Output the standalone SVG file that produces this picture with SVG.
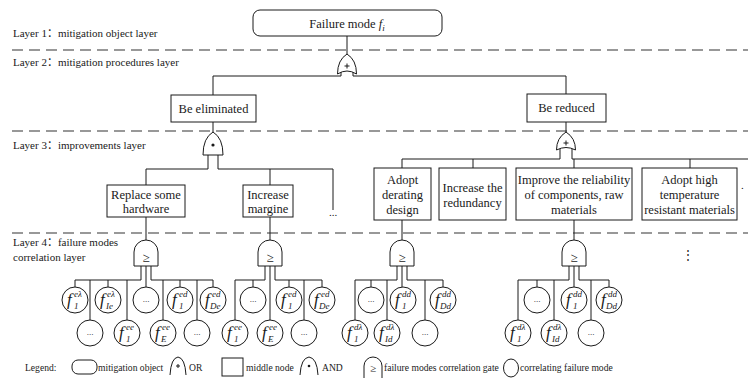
<svg xmlns="http://www.w3.org/2000/svg" width="748" height="378" viewBox="0 0 748 378" font-family="'Liberation Serif', 'DejaVu Serif', serif">
  <style>
    .ln { stroke: #1a1a1a; stroke-width: 1; fill: none; }
    .dash { stroke: #333; stroke-width: 1.2; stroke-dasharray: 11 6; fill: none; }
    .box { fill: #fff; stroke: #1a1a1a; stroke-width: 1; }
    .gate { fill: #fff; stroke: #1a1a1a; stroke-width: 1; }
    text { font-family: 'Liberation Serif', 'DejaVu Serif', 'Noto Sans CJK SC', serif; fill: #1a1a1a; }
    .bt { font-size: 12.5px; text-anchor: middle; }
    .lt { font-size: 11px; }
    .lg { font-size: 9.6px; }
    .fl { font-size: 17px; font-style: italic; }
    .sp { font-size: 9px; font-style: italic; }
    .sb { font-size: 9px; font-style: italic; }
    .dots { font-size: 9px; text-anchor: middle; }
    .ge { font-size: 13px; text-anchor: middle; }
  </style>
  <defs>
    <circle id="fm" r="13" class="box"/>
    <!-- correlation gate: flat sides, domed top, origin at gate centre top -->
    <path id="cg" class="gate" d="M-12,26 L-12,12 A12,12 0 0 1 12,12 L12,26 Z"/>
  </defs>

  <rect width="748" height="378" fill="#fff"/>

  <!-- layer separators -->
  <g id="separators">
    <line class="dash" x1="12" y1="50" x2="748" y2="50"/>
    <line class="dash" x1="12" y1="131" x2="748" y2="131"/>
    <line class="dash" x1="12" y1="233" x2="748" y2="233"/>
  </g>

  <!-- layer captions -->
  <g id="layer-labels" class="lt">
    <text x="13" y="37">Layer 1：mitigation object layer</text>
    <text x="13" y="66">Layer 2：mitigation procedures layer</text>
    <text x="13" y="149">Layer 3：improvements layer</text>
    <text x="13" y="246">Layer 4：failure modes</text>
    <text x="13" y="261">correlation layer</text>
  </g>

  <!-- connectors -->
  <g id="connectors" class="ln">
    <!-- top -->
    <path d="M347,36 V54"/>
    <path d="M341,72 V76 H213 V95"/>
    <path d="M353,72 V76 H566 V94"/>
    <!-- eliminated branch -->
    <path d="M213,122 V132"/>
    <path d="M208,155 V169 H146 V185"/>
    <path d="M218,155 V169 H333 V210"/>
    <path d="M270,169 V185"/>
    <!-- reduced branch -->
    <path d="M566,122 V132"/>
    <path d="M560,148 V159 H402 V168"/>
    <path d="M572,148 V159 H748"/>
    <path d="M473,159 V168"/>
    <path d="M574,159 V168"/>
    <path d="M690,159 V168"/>
    <!-- boxes to correlation gates -->
    <path d="M146,217 V240"/>
    <path d="M270,217 V240"/>
    <path d="M402,220 V240"/>
    <path d="M574,220 V240"/>
    <!-- group 1 -->
    <path d="M141,266 V280 H75 V287"/>
    <path d="M108,280 V287 M90,280 V320 M127,280 V320"/>
    <path d="M146,266 V287"/>
    <path d="M151,266 V280 H213 V287"/>
    <path d="M180,280 V287 M163,280 V320 M197,280 V320"/>
    <!-- group 2 -->
    <path d="M265,266 V280 H235 V320"/>
    <path d="M253,280 V287"/>
    <path d="M270,266 V320"/>
    <path d="M275,266 V280 H322 V287"/>
    <path d="M289,280 V287 M304,280 V320"/>
    <!-- group 3 -->
    <path d="M397,266 V280 H355 V320"/>
    <path d="M371,280 V287 M387,280 V320"/>
    <path d="M402,266 V287"/>
    <path d="M407,266 V280 H443 V287"/>
    <path d="M425,280 V320"/>
    <!-- group 4 -->
    <path d="M569,266 V280 H518 V320"/>
    <path d="M537,280 V287 M554,280 V320"/>
    <path d="M574,266 V287"/>
    <path d="M579,266 V280 H609 V287"/>
    <path d="M591,280 V320"/>
  </g>

  <!-- layer 1 -->
  <g id="failure-mode">
    <rect class="box" x="253" y="10" width="189" height="26" rx="7"/>
    <text x="347" y="28" font-size="12.5" text-anchor="middle">Failure mode <tspan font-style="italic">f</tspan><tspan font-style="italic" font-size="9" dy="3">i</tspan></text>
  </g>

  <!-- layer 2 -->
  <g id="gate-or-top">
    <path class="gate" d="M347,54 Q356.5,60 356.5,74 Q347,68 337.5,74 Q337.5,60 347,54 Z"/>
    <path class="ln" d="M344.5,66 H349.5 M347,63.5 V68.5"/>
  </g>
  <g id="be-eliminated">
    <rect class="box" x="171" y="95" width="85" height="27"/>
    <text class="bt" x="213.5" y="113">Be eliminated</text>
  </g>
  <g id="be-reduced">
    <rect class="box" x="527" y="94" width="79" height="28"/>
    <text class="bt" x="566.5" y="112">Be reduced</text>
  </g>

  <!-- layer 3 -->
  <g id="gate-and-eliminated">
    <path class="gate" d="M213,132 Q223,138 223,155 L203,155 Q203,138 213,132 Z"/>
    <circle cx="213" cy="145" r="1.6" fill="#1a1a1a"/>
  </g>
  <g id="gate-or-reduced">
    <path class="gate" d="M566,132 Q575.5,138 575.5,150 Q566,145 556.5,150 Q556.5,138 566,132 Z"/>
    <path class="ln" d="M563.5,143 H568.5 M566,140.5 V145.5"/>
  </g>
  <g id="replace-hardware">
    <rect class="box" x="107" y="185" width="78" height="32"/>
    <text class="bt" x="146" y="199">Replace some</text>
    <text class="bt" x="146" y="213">hardware</text>
  </g>
  <g id="increase-margine">
    <rect class="box" x="243" y="185" width="50" height="32"/>
    <text class="bt" x="268" y="199">Increase</text>
    <text class="bt" x="268" y="213">margine</text>
  </g>
  <text x="333" y="216" font-size="11" text-anchor="middle">...</text>
  <g id="adopt-derating">
    <rect class="box" x="374" y="168" width="57" height="52"/>
    <text class="bt" x="402.5" y="184">Adopt</text>
    <text class="bt" x="402.5" y="199">derating</text>
    <text class="bt" x="402.5" y="214">design</text>
  </g>
  <g id="increase-redundancy">
    <rect class="box" x="439" y="168" width="67" height="52"/>
    <text class="bt" x="472.5" y="192">Increase the</text>
    <text class="bt" x="472.5" y="207">redundancy</text>
  </g>
  <g id="improve-reliability">
    <rect class="box" x="516" y="168" width="116" height="52"/>
    <text class="bt" x="574" y="184">Improve the reliability</text>
    <text class="bt" x="574" y="199">of components, raw</text>
    <text class="bt" x="574" y="214">materials</text>
  </g>
  <g id="adopt-high-temp">
    <rect class="box" x="642" y="168" width="95" height="52"/>
    <text class="bt" x="689.5" y="184">Adopt high</text>
    <text class="bt" x="689.5" y="199">temperature</text>
    <text class="bt" x="689.5" y="214">resistant materials</text>
  </g>
  <text x="741" y="189" font-size="11">.</text>

  <!-- layer 4: correlation gates -->
  <g id="gate-cor-1"><use href="#cg" x="146" y="240"/><text class="ge" x="146" y="262">≥</text></g>
  <g id="gate-cor-2"><use href="#cg" x="270" y="240"/><text class="ge" x="270" y="262">≥</text></g>
  <g id="gate-cor-3"><use href="#cg" x="402" y="240"/><text class="ge" x="402" y="262">≥</text></g>
  <g id="gate-cor-4"><use href="#cg" x="574" y="240"/><text class="ge" x="574" y="262">≥</text></g>
  <text x="688" y="259" font-size="12" text-anchor="middle">⋮</text>

  <!-- layer 4: correlating failure modes, group 1 -->
  <g id="fm-1-1"><use href="#fm" x="75" y="300"/><text class="fl" x="67" y="305">f<tspan class="sp" x="74" y="297">eλ</tspan><tspan class="sb" x="74" y="309" font-style="normal">1</tspan></text></g>
  <g id="fm-1-2"><use href="#fm" x="108" y="300"/><text class="fl" x="100" y="305">f<tspan class="sp" x="107" y="297">eλ</tspan><tspan class="sb" x="106" y="309">Ie</tspan></text></g>
  <g id="fm-1-3"><use href="#fm" x="146" y="300"/><text class="dots" x="146" y="302">...</text></g>
  <g id="fm-1-4"><use href="#fm" x="180" y="300"/><text class="fl" x="172" y="305">f<tspan class="sp" x="179" y="297">ed</tspan><tspan class="sb" x="179" y="309" font-style="normal">1</tspan></text></g>
  <g id="fm-1-5"><use href="#fm" x="213" y="300"/><text class="fl" x="205" y="305">f<tspan class="sp" x="212" y="297">ed</tspan><tspan class="sb" x="210" y="309">De</tspan></text></g>
  <g id="fm-1-6"><use href="#fm" x="90" y="333"/><text class="dots" x="90" y="335">...</text></g>
  <g id="fm-1-7"><use href="#fm" x="127" y="333"/><text class="fl" x="119" y="338">f<tspan class="sp" x="126" y="330">ee</tspan><tspan class="sb" x="126" y="342" font-style="normal">1</tspan></text></g>
  <g id="fm-1-8"><use href="#fm" x="163" y="333"/><text class="fl" x="155" y="338">f<tspan class="sp" x="162" y="330">ee</tspan><tspan class="sb" x="161" y="342">E</tspan></text></g>
  <g id="fm-1-9"><use href="#fm" x="197" y="333"/><text class="dots" x="197" y="335">...</text></g>

  <!-- group 2 -->
  <g id="fm-2-1"><use href="#fm" x="253" y="300"/><text class="dots" x="253" y="302">...</text></g>
  <g id="fm-2-2"><use href="#fm" x="289" y="300"/><text class="fl" x="281" y="305">f<tspan class="sp" x="288" y="297">ed</tspan><tspan class="sb" x="288" y="309" font-style="normal">1</tspan></text></g>
  <g id="fm-2-3"><use href="#fm" x="322" y="300"/><text class="fl" x="314" y="305">f<tspan class="sp" x="321" y="297">ed</tspan><tspan class="sb" x="319" y="309">De</tspan></text></g>
  <g id="fm-2-4"><use href="#fm" x="235" y="333"/><text class="fl" x="227" y="338">f<tspan class="sp" x="234" y="330">ee</tspan><tspan class="sb" x="234" y="342" font-style="normal">1</tspan></text></g>
  <g id="fm-2-5"><use href="#fm" x="270" y="333"/><text class="fl" x="262" y="338">f<tspan class="sp" x="269" y="330">ee</tspan><tspan class="sb" x="268" y="342">E</tspan></text></g>
  <g id="fm-2-6"><use href="#fm" x="304" y="333"/><text class="dots" x="304" y="335">...</text></g>

  <!-- group 3 -->
  <g id="fm-3-1"><use href="#fm" x="371" y="300"/><text class="dots" x="371" y="302">...</text></g>
  <g id="fm-3-2"><use href="#fm" x="403" y="300"/><text class="fl" x="395" y="305">f<tspan class="sp" x="402" y="297">dd</tspan><tspan class="sb" x="402" y="309" font-style="normal">1</tspan></text></g>
  <g id="fm-3-3"><use href="#fm" x="443" y="300"/><text class="fl" x="435" y="305">f<tspan class="sp" x="442" y="297">dd</tspan><tspan class="sb" x="440" y="309">Dd</tspan></text></g>
  <g id="fm-3-4"><use href="#fm" x="355" y="333"/><text class="fl" x="347" y="338">f<tspan class="sp" x="354" y="330">dλ</tspan><tspan class="sb" x="354" y="342" font-style="normal">1</tspan></text></g>
  <g id="fm-3-5"><use href="#fm" x="387" y="333"/><text class="fl" x="379" y="338">f<tspan class="sp" x="386" y="330">dλ</tspan><tspan class="sb" x="385" y="342">Id</tspan></text></g>
  <g id="fm-3-6"><use href="#fm" x="425" y="333"/><text class="dots" x="425" y="335">...</text></g>

  <!-- group 4 -->
  <g id="fm-4-1"><use href="#fm" x="537" y="300"/><text class="dots" x="537" y="302">...</text></g>
  <g id="fm-4-2"><use href="#fm" x="574" y="300"/><text class="fl" x="566" y="305">f<tspan class="sp" x="573" y="297">dd</tspan><tspan class="sb" x="573" y="309" font-style="normal">1</tspan></text></g>
  <g id="fm-4-3"><use href="#fm" x="609" y="300"/><text class="fl" x="601" y="305">f<tspan class="sp" x="608" y="297">dd</tspan><tspan class="sb" x="606" y="309">Dd</tspan></text></g>
  <g id="fm-4-4"><use href="#fm" x="518" y="333"/><text class="fl" x="510" y="338">f<tspan class="sp" x="517" y="330">dλ</tspan><tspan class="sb" x="517" y="342" font-style="normal">1</tspan></text></g>
  <g id="fm-4-5"><use href="#fm" x="554" y="333"/><text class="fl" x="546" y="338">f<tspan class="sp" x="553" y="330">dλ</tspan><tspan class="sb" x="552" y="342">Id</tspan></text></g>
  <g id="fm-4-6"><use href="#fm" x="591" y="333"/><text class="dots" x="591" y="335">...</text></g>

  <!-- legend -->
  <g id="legend">
    <text class="lg" x="25" y="371">Legend:</text>
    <rect class="box" x="72" y="360" width="25" height="14" rx="6"/>
    <text class="lg" x="98" y="371">mitigation object</text>
    <path class="ln" d="M170,375 Q171,358 178,357 Q185,358 186,375"/>
    <path class="ln" d="M176,366 H180 M178,364 V368"/>
    <text class="lg" x="189" y="371">OR</text>
    <rect class="box" x="222" y="358" width="21" height="18"/>
    <text class="lg" x="246" y="371">middle node</text>
    <path class="ln" d="M300,375 Q301,358 309,357 Q317,358 318,375"/>
    <circle cx="309" cy="366" r="1.3" fill="#1a1a1a"/>
    <text class="lg" x="322" y="371">AND</text>
    <path class="ln" d="M364,378 V366 A9,9 0 0 1 382,366 V378"/>
    <text x="373" y="372" font-size="11" text-anchor="middle">≥</text>
    <text class="lg" x="384" y="371" font-size="9.3">failure modes correlation gate</text>
    <ellipse class="ln" cx="511" cy="368" rx="7.5" ry="9"/>
    <text class="lg" x="520" y="371">correlating failure mode</text>
  </g>
</svg>
